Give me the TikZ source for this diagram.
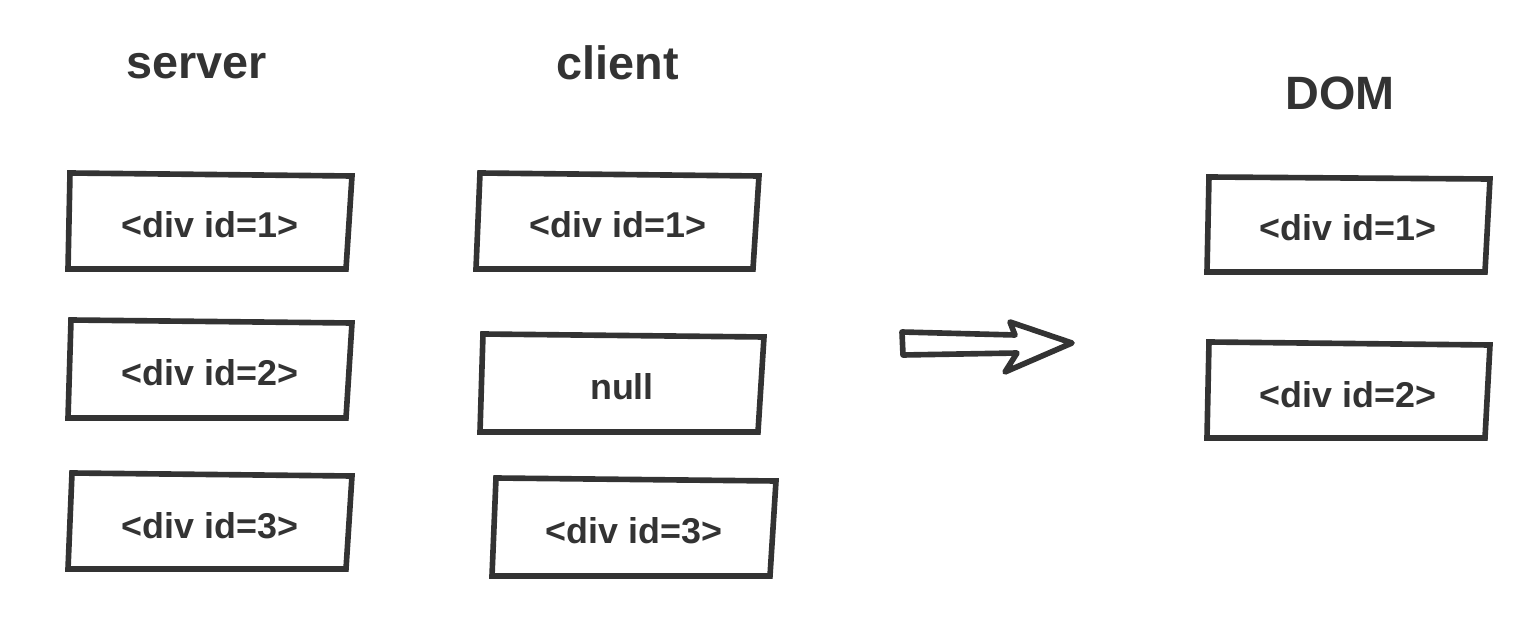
\documentclass[tikz,border=0pt]{standalone}
\usepackage{fontspec}
\setmainfont{Liberation Sans}
\usepackage{tikz}
\definecolor{ink}{HTML}{333333}
\tikzset{
    box/.style={draw=ink, line width=1.6pt, line join=miter},
    bigarrow/.style={draw=ink, line width=1.6pt, line join=round},
    title/.style={text=ink, inner sep=0pt, anchor=base, font=\fontsize{13.3}{15}\selectfont\bfseries},
    label/.style={text=ink, inner sep=0pt, anchor=base, font=\fontsize{10.2}{12}\selectfont\bfseries}
}

\begin{document}
\begin{tikzpicture}[x=0.01cm, y=-0.01cm]
    \useasboundingbox (0,0) rectangle (1532,618);

    \node[title] (server) at (197,78) {server};
    \node[title] (client) at (618,80) {client};
    \node[title] (dom) at (1340,110) {DOM};

    % server
    \draw[box] (70,173) -- (352,176) -- (346,269) -- (68,269) -- cycle;
    \node[label] (S1) at (210,238) {<div id=1>};
    \draw[box] (71,320) -- (352,323) -- (346,418) -- (68,418) -- cycle;
    \node[label] (S2) at (210,385) {<div id=2>};
    \draw[box] (72,473) -- (352,476) -- (346,569) -- (68,569) -- cycle;
    \node[label] (S3) at (210,538) {<div id=3>};

    % client
    \draw[box] (480,173) -- (759,176) -- (753,269) -- (476,269) -- cycle;
    \node[label] (C1) at (618,238) {<div id=1>};
    \draw[box] (483,334) -- (764,337) -- (758,432) -- (480,432) -- cycle;
    \node[label] (C2) at (622,399) {null};
    \draw[box] (496,478) -- (776,481) -- (770,576) -- (492,576) -- cycle;
    \node[label] (C3) at (634,543) {<div id=3>};

    % arrow
    \draw[bigarrow] (902,332) -- (1015,335) -- (1010,322) -- (1072,343)
        -- (1005,372) -- (1017,353) -- (903,355) -- cycle;

    % DOM
    \draw[box] (1209,177) -- (1490,179) -- (1485,272) -- (1207,272) -- cycle;
    \node[label] (D1) at (1348,240) {<div id=1>};
    \draw[box] (1209,342) -- (1490,345) -- (1485,438) -- (1207,438) -- cycle;
    \node[label] (D2) at (1348,407) {<div id=2>};
\end{tikzpicture}
\end{document}
